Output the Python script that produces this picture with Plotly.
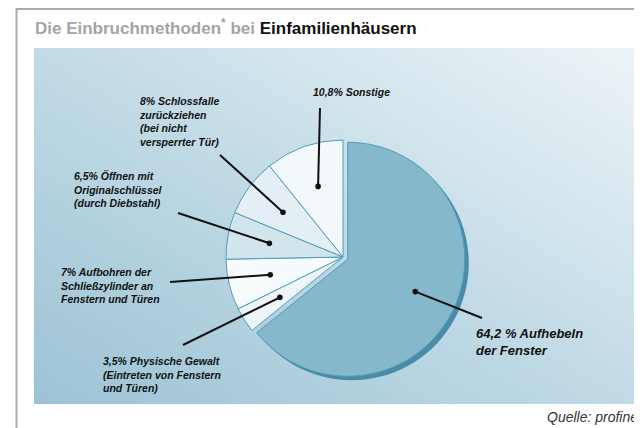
import math
import base64
import plotly.graph_objects as go

# ---------------- data ----------------
methods = [
    "Aufhebeln der Fenster",
    "Physische Gewalt (Eintreten von Fenstern und Türen)",
    "Aufbohren der Schließzylinder an Fenstern und Türen",
    "Öffnen mit Originalschlüssel (durch Diebstahl)",
    "Schlossfalle zurückziehen (bei nicht versperrter Tür)",
    "Sonstige",
]
shares = [64.2, 3.5, 7.0, 6.5, 8.0, 10.8]
label_lines = [
    ["Aufhebeln", "der Fenster"],
    ["Physische Gewalt", "(Eintreten von Fenstern", "und Türen)"],
    ["Aufbohren der", "Schließzylinder an", "Fenstern und Türen"],
    ["Öffnen mit", "Originalschlüssel", "(durch Diebstahl)"],
    ["Schlossfalle", "zurückziehen", "(bei nicht", "versperrter Tür)"],
    ["Sonstige"],
]
pct_sep = [" % ", "% ", "% ", "% ", "% ", "% "]
title_grey = "Die Einbruchmethoden"
title_mid = " bei "
title_black = "Einfamilienhäusern"
source_text = "Quelle: profine"

# ---------------- layout constants ----------------
W, H = 642, 428
OX, OY = 8, 8                      # page body margin of the browser
CX, CY, R = 343, 257, 117          # pie centre / radius (screen pixels)
PULL = [0.045, 0, 0, 0, 0, 0]
slice_colors = ["#86b8cc", "#eef5f8", "#f8fbfc", "#d2e5ed", "#e3eff4", "#f3f8fa"]
rim_colors = ["#4a8ca8", "rgba(0,0,0,0)", "rgba(0,0,0,0)", "rgba(0,0,0,0)",
              "rgba(0,0,0,0)", "rgba(0,0,0,0)"]
text_pos = [(474, 324), (101, 353), (59, 264), (72, 168), (137, 93), (311, 84)]
tail_pos = [(482, 318), (183, 345), (170, 282), (178, 213), (220, 155), (320, 108)]
text_size = [13, 10.5, 10.5, 10.5, 10.5, 10.5]
FONT = "Liberation Sans, Arial, sans-serif"

half = R * (1 + max(PULL))


def X(x):
    return x - OX


def Y(y):
    return H - (y - OY)


def dom(cx, cy):
    cx, cy = cx - OX, cy - OY
    return dict(x=[(cx - half) / W, (cx + half) / W],
                y=[(H - cy - half) / H, (H - cy + half) / H])


fig = go.Figure()

# invisible trace to create pixel-mapped cartesian axes
fig.add_trace(go.Scatter(x=[0, W], y=[0, H], mode="markers",
                         marker=dict(opacity=0), hoverinfo="skip",
                         showlegend=False))

# depth rim of the pulled slice
fig.add_trace(go.Pie(
    labels=methods, values=shares, sort=False, direction="clockwise",
    rotation=0, pull=PULL, domain=dom(CX + 4, CY + 4),
    marker=dict(colors=rim_colors, line=dict(width=0)),
    textinfo="none", hoverinfo="skip", showlegend=False,
))
# main pie
fig.add_trace(go.Pie(
    labels=methods, values=shares, sort=False, direction="clockwise",
    rotation=0, pull=PULL, domain=dom(CX, CY),
    marker=dict(colors=slice_colors, line=dict(color="#4e9cba", width=1)),
    textinfo="none", hoverinfo="label+percent", showlegend=False,
))

# background gradient panel
svg = ('<svg xmlns="http://www.w3.org/2000/svg" width="608" height="356" '
       'viewBox="0 0 608 356" preserveAspectRatio="none"><defs>'
       '<linearGradient id="g" x1="0" y1="1" x2="1" y2="0">'
       '<stop offset="0" stop-color="#9cc3d5"/>'
       '<stop offset="0.45" stop-color="#bdd8e4"/>'
       '<stop offset="1" stop-color="#eef4f7"/>'
       '</linearGradient></defs><rect width="608" height="356" fill="url(#g)"/></svg>')
src = "data:image/svg+xml;base64," + base64.b64encode(svg.encode()).decode()
fig.add_layout_image(dict(source=src, xref="paper", yref="paper",
                          x=X(34) / W, y=Y(48) / H, sizex=608 / W, sizey=356 / H,
                          xanchor="left", yanchor="top", sizing="stretch",
                          layer="below"))

# frame lines
fig.add_shape(type="line", xref="x", yref="y", x0=X(16.5), x1=X(16.5), y0=Y(8), y1=0,
              line=dict(color="#ababab", width=2), layer="below")
fig.add_shape(type="line", xref="x", yref="y", x0=X(16), x1=W, y0=H - 1, y1=H - 1,
              line=dict(color="#ababab", width=2), layer="below")

# leader lines with dots, computed from slice angles
total = sum(shares)
cum = 0.0
annotations = []
DOT = 2.8
for i, v in enumerate(shares):
    mid = (cum + v / 2) / total * 2 * math.pi
    cum += v
    sx = math.sin(mid)
    sy = -math.cos(mid)
    cx = CX + PULL[i] * R * sx
    cy = CY + PULL[i] * R * sy
    tipx = X(cx + 0.64 * R * sx)
    tipy = Y(cy + 0.64 * R * sy)
    fig.add_shape(type="line", xref="x", yref="y", layer="above",
                  x0=X(tail_pos[i][0]), y0=Y(tail_pos[i][1]), x1=tipx, y1=tipy,
                  line=dict(color="#111111", width=2))
    fig.add_shape(type="circle", xref="x", yref="y", layer="above",
                  x0=tipx - DOT, x1=tipx + DOT, y0=tipy - DOT, y1=tipy + DOT,
                  fillcolor="#111111", line=dict(color="#111111", width=0))
    pct = f"{v:g}".replace(".", ",") + pct_sep[i]
    txt = "<br>".join([pct + label_lines[i][0]] + label_lines[i][1:])
    annotations.append(dict(
        x=X(text_pos[i][0]), y=Y(text_pos[i][1]), xref="x", yref="y",
        xanchor="left", yanchor="top", align="left", showarrow=False,
        text=txt,
        font=dict(family=FONT, size=text_size[i], color="#111111",
                  weight="bold", style="italic"),
    ))

# title
annotations.append(dict(
    x=X(33), y=Y(40), xref="x", yref="y", xanchor="left", yanchor="bottom",
    showarrow=False,
    text=(f"<b><span style='color:#a4a4a4'>{title_grey}<sup>*</sup>{title_mid}</span>"
          f"{title_black}</b>"),
    font=dict(family=FONT, size=17, color="#111111"),
))
# source
annotations.append(dict(
    x=X(640), y=Y(417), xref="x", yref="y", xanchor="right", yanchor="middle",
    showarrow=False, text=f"<i>{source_text}</i>",
    font=dict(family=FONT, size=14, color="#333333"),
))

fig.update_layout(
    width=W, height=H, margin=dict(l=0, r=0, t=0, b=0),
    paper_bgcolor="white", plot_bgcolor="rgba(0,0,0,0)",
    xaxis=dict(range=[0, W], visible=False, fixedrange=True, domain=[0, 1]),
    yaxis=dict(range=[0, H], visible=False, fixedrange=True, domain=[0, 1]),
    annotations=annotations, showlegend=False,
)

fig.write_html("out.html")
